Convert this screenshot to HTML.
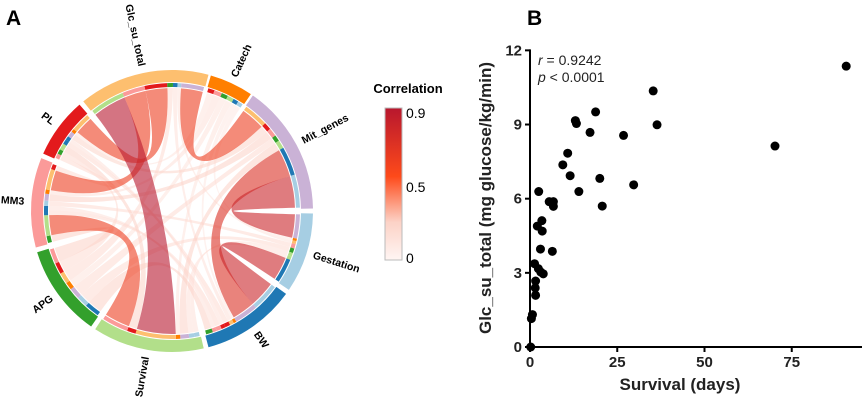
<!DOCTYPE html>
<html><head><meta charset="utf-8">
<style>
body{margin:0;background:#fff;}
svg{display:block;font-family:"Liberation Sans",Arial,sans-serif;}
</style></head>
<body>
<svg id="fig" width="865" height="401" viewBox="0 0 865 401">
<defs>
<linearGradient id="corrGrad" x1="0" y1="1" x2="0" y2="0">
<stop offset="0" stop-color="#fff5f3"/>
<stop offset="0.25" stop-color="#fcd2c6"/>
<stop offset="0.55" stop-color="#fe4a1a"/>
<stop offset="1" stop-color="#b8172e"/>
</linearGradient>
</defs>
<text x="6" y="25" font-size="21" font-weight="bold">A</text>
<text x="527" y="25" font-size="21" font-weight="bold">B</text>
<g id="chord"></g>
<g id="legend">
<text x="408" y="93" font-size="13" font-weight="bold" text-anchor="middle">Correlation</text>
<rect x="385" y="108" width="17" height="152" fill="url(#corrGrad)" stroke="#bbb" stroke-width="1"/>
<text x="406" y="118" font-size="14">0.9</text>
<text x="406" y="192" font-size="14">0.5</text>
<text x="406" y="263" font-size="14">0</text>
</g>
<g id="scatter"></g>
</svg>
<script>
// ---------- Chord data ----------
const segNames = ["Glc_su_total","Catech","Mit_genes","Gestation","BW","Survival","APG","MM3","PL"];
const segColors = ["#fdbf6f","#ff7f00","#cab2d6","#a6cee3","#1f78b4","#b2df8a","#33a02c","#fb9a99","#e31a1c"];
const segStart = [321,16,35,91,126,167,215,255,294];
const segEnd   = [15,34,89,124,165,213,253,292,319];
const linkSrc = ["Glc_su_total","Glc_su_total","Glc_su_total","Glc_su_total","Mit_genes","Mit_genes","Gestation","MM3","Glc_su_total","Glc_su_total","Glc_su_total","Catech","Catech","Catech","Catech","Mit_genes","Mit_genes","Mit_genes","Mit_genes","Gestation","Gestation","Gestation","BW","BW","BW","Survival","Survival","APG","APG","PL","PL","MM3","Catech","Catech"];
const linkTgt = ["Survival","PL","MM3","Mit_genes","BW","Gestation","BW","Survival","APG","BW","Gestation","PL","MM3","APG","Gestation","PL","MM3","APG","Survival","APG","MM3","Survival","APG","MM3","PL","PL","Gestation","MM3","PL","MM3","BW","BW","Survival","BW"];
const linkVal = [0.92,0.6,0.6,0.6,0.7,0.8,0.8,0.6,0.15,0.12,0.1,0.1,0.12,0.1,0.08,0.18,0.2,0.15,0.2,0.15,0.15,0.12,0.2,0.15,0.15,0.2,0.12,0.2,0.15,0.15,0.12,0.12,0.1,0.08];
// link ordering within the Glc_su_total sector (clockwise)
const glcOrder = ["Survival","MM3","PL","APG","BW","Gestation","Mit_genes","Catech"];

const cx=172, cy=211, R1=129, R2=141, Rt1=124, Rt2=128;
const NS="http://www.w3.org/2000/svg";
const rad=a=>(a-90)*Math.PI/180;
const px=(r,a)=>cx+r*Math.cos(rad(a)), py=(r,a)=>cy+r*Math.sin(rad(a));
function span(i){let s=segStart[i],e=segEnd[i];if(e<s)e+=360;return [s,e];}
function corrColor(v){
  const stops=[[0,[255,245,243]],[0.2,[252,210,198]],[0.5,[254,74,26]],[0.9,[184,23,46]]];
  for(let k=1;k<stops.length;k++){if(v<=stops[k][0]){const[a,ca]=stops[k-1],[b,cb]=stops[k];const t=(v-a)/(b-a);return "rgb("+ca.map((c,j)=>Math.round(c+(cb[j]-c)*t)).join(",")+")";}}
  return "rgb(184,23,46)";
}
const chord=document.getElementById("chord");
function mk(tag,attrs,parent){const el=document.createElementNS(NS,tag);for(const k in attrs)el.setAttribute(k,attrs[k]);(parent||chord).appendChild(el);return el;}
function arcPath(r1,r2,a0,a1){const l=(a1-a0)>180?1:0;
  return `M${px(r2,a0)},${py(r2,a0)} A${r2},${r2} 0 ${l} 1 ${px(r2,a1)},${py(r2,a1)} L${px(r1,a1)},${py(r1,a1)} A${r1},${r1} 0 ${l} 0 ${px(r1,a0)},${py(r1,a0)}Z`;}

const mids=segNames.map((n,i)=>{const[s,e]=span(i);return (s+e)/2;});
const alloc={};
segNames.forEach((n,i)=>{
  const items=[];
  linkSrc.forEach((s,k)=>{if(s===n)items.push({k,other:segNames.indexOf(linkTgt[k])});if(linkTgt[k]===n)items.push({k,other:segNames.indexOf(s)});});
  items.forEach(it=>{it.d=((mids[it.other]-mids[i])%360+360)%360;});
  if(n==="Glc_su_total") items.sort((a,b)=>glcOrder.indexOf(segNames[a.other])-glcOrder.indexOf(segNames[b.other]));
  else items.sort((a,b)=>b.d-a.d);
  const tot=items.reduce((s,it)=>s+linkVal[it.k],0);
  const[s,e]=span(i);const w=(e-s-1);let a=s+0.5;
  items.forEach(it=>{const da=w*linkVal[it.k]/tot;alloc[it.k+"_"+n]=[a,a+da,it.other];a+=da;});
});

const order=linkVal.map((v,k)=>k).sort((a,b)=>linkVal[a]-linkVal[b]);
order.forEach(k=>{
  const A=alloc[k+"_"+linkSrc[k]],B=alloc[k+"_"+linkTgt[k]];
  const r=Rt1-1,v=linkVal[k];
  const d=`M${px(r,A[0])},${py(r,A[0])} A${r},${r} 0 0 1 ${px(r,A[1])},${py(r,A[1])} Q${cx},${cy} ${px(r,B[0])},${py(r,B[0])} A${r},${r} 0 0 1 ${px(r,B[1])},${py(r,B[1])} Q${cx},${cy} ${px(r,A[0])},${py(r,A[0])}Z`;
  const p=mk("path",{d,fill:corrColor(v),"fill-opacity":v>0.5?0.6:0.55});
  
  
});
Object.keys(alloc).forEach(key=>{const[a0,a1,o]=alloc[key];
  const p=mk("path",{d:arcPath(Rt1,Rt2,a0,a1),fill:segColors[o]});
  
  
});
segNames.forEach((n,i)=>{const[s,e]=span(i);
  const p=mk("path",{d:arcPath(R1,R2,s,e),fill:segColors[i]});
  
  
  const m=(s+e)/2%360,r=148,x=px(r,m),y=py(r,m);
  const right=m>0&&m<180;
  const t=mk("text",{x,y,"font-size":10.5,"font-weight":"bold","dominant-baseline":"middle","text-anchor":right?"start":"end",transform:`rotate(${right?m-90:m+90} ${x} ${y})`});
  t.textContent=n;
  
  
});

// ---------- Scatter data ----------
const survivalDays=[90.6,35.3,36.4,18.8,13.0,13.3,17.2,26.8,70.2,10.8,9.4,11.5,20.0,29.7,14.0,2.5,20.7,5.5,6.7,6.7,2.1,3.4,3.5,3.0,6.4,1.3,2.4,3.1,3.8,1.6,1.5,1.6,0.7,0.4,0.2];
const glcValues=[11.36,10.36,8.99,9.51,9.16,9.04,8.68,8.56,8.13,7.84,7.37,6.93,6.82,6.56,6.29,6.29,5.70,5.88,5.88,5.69,4.89,5.11,4.69,3.96,3.87,3.37,3.17,3.03,2.96,2.67,2.39,2.09,1.31,1.15,0];
const xTicks=[0,25,50,75];
const yTicks=[0,3,6,9,12];
const X0=530,Y0=347,XS=3.49,YS=24.72;
const sx=v=>X0+v*XS, sy=v=>Y0-v*YS;
const sc=document.getElementById("scatter");
function mk2(tag,attrs){return mk(tag,attrs,sc);}
let ax=mk2("line",{x1:X0,y1:Y0,x2:862,y2:Y0,stroke:"#000","stroke-width":2});


ax=mk2("line",{x1:X0,y1:Y0+1,x2:X0,y2:sy(12)-1,stroke:"#000","stroke-width":2});


xTicks.forEach(v=>{
  const l=mk2("line",{x1:sx(v),y1:Y0,x2:sx(v),y2:Y0+5,stroke:"#000","stroke-width":2});
  
  
  const t=mk2("text",{x:sx(v),y:Y0+20,"font-size":15,"font-weight":"bold","text-anchor":"middle",fill:"#222"});
  t.textContent=v;
  
  
});
yTicks.forEach(v=>{
  const l=mk2("line",{x1:X0-5,y1:sy(v),x2:X0,y2:sy(v),stroke:"#000","stroke-width":2});
  
  
  const t=mk2("text",{x:X0-8,y:sy(v)+5,"font-size":15,"font-weight":"bold","text-anchor":"end",fill:"#222"});
  t.textContent=v;
  
  
});
survivalDays.forEach((d,i)=>{
  const c=mk2("circle",{cx:sx(d),cy:sy(glcValues[i]),r:4.5,fill:"#000"});
  
  
});
let t=mk2("text",{x:680,y:390,"font-size":17,"font-weight":"bold","text-anchor":"middle",fill:"#222"});
t.textContent="Survival (days)";


t=mk2("text",{x:0,y:0,"font-size":17,"font-weight":"bold","text-anchor":"middle",fill:"#222",transform:"translate(491,198) rotate(-90)"});
t.textContent="Glc_su_total (mg glucose/kg/min)";


t=mk2("text",{x:538,y:65,"font-size":14,fill:"#222"});
t.innerHTML='<tspan font-style="italic">r</tspan> = 0.9242';


t=mk2("text",{x:538,y:82,"font-size":14,fill:"#222"});
t.innerHTML='<tspan font-style="italic">p</tspan> &lt; 0.0001';


</script>
</body></html>
